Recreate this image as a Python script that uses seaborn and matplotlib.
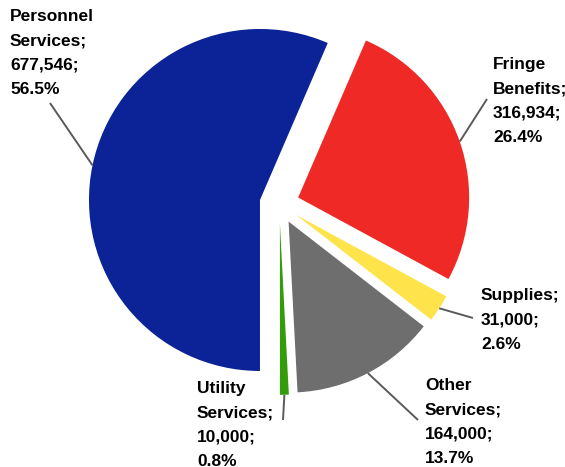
import numpy as np
import matplotlib
matplotlib.use("Agg")
import matplotlib.pyplot as plt
import seaborn as sns

# Budget categories and amounts
categories = ["Personnel\nServices", "Fringe\nBenefits", "Supplies", "Other\nServices", "Utility\nServices"]
amounts = [677546, 316934, 31000, 164000, 10000]
colors = ["#0b2396", "#ee2926", "#ffe34b", "#6e6e6e", "#349b0a"]

sns.set_theme(style="white")
plt.rcParams["font.family"] = ["Liberation Sans", "DejaVu Sans"]

W, H = 565, 467
fig = plt.figure(figsize=(W / 100, H / 100), dpi=100)
ax = fig.add_axes([0, 0, 1, 1])

# pie geometry in pixels
R = 171.0
CX, CY = 279.4, 204.0


def to_data(px, py):
    return (px - CX) / R, (CY - py) / R


wedges, _ = ax.pie(
    amounts,
    colors=colors,
    startangle=-90,
    counterclock=False,
    explode=[0.116] * len(amounts),
    wedgeprops=dict(linewidth=0),
)
ax.set_xlim(-CX / R, (W - CX) / R)
ax.set_ylim(-(H - CY) / R, CY / R)
ax.set_aspect("equal")
ax.axis("off")

total = sum(amounts)

# label text top-left corners and leader end points (pixels)
label_pos = [(10, 9), (493, 57), (481, 288), (425, 378), (197, 381)]
leader_end = [(50, 103), (487, 99), (473, 318), (418, 420), (283, 420)]

for w, cat, val, (lx, ly), (ex, ey) in zip(wedges, categories, amounts, label_pos, leader_end):
    mid = np.deg2rad((w.theta1 + w.theta2) / 2)
    cx, cy = w.center
    sx, sy = cx + w.r * np.cos(mid), cy + w.r * np.sin(mid)
    tx, ty = to_data(ex, ey)
    ax.plot([sx, tx], [sy, ty], color="#5a5a5a", lw=1.4, solid_capstyle="butt")
    txt = f"{cat};\n{val:,};\n{val / total * 100:.1f}%"
    x, y = to_data(lx, ly)
    ax.text(x, y, txt, ha="left", va="top", fontsize=12.5, fontweight="bold",
            color="#000000", linespacing=1.78)

fig.savefig("out.png", dpi=100)
